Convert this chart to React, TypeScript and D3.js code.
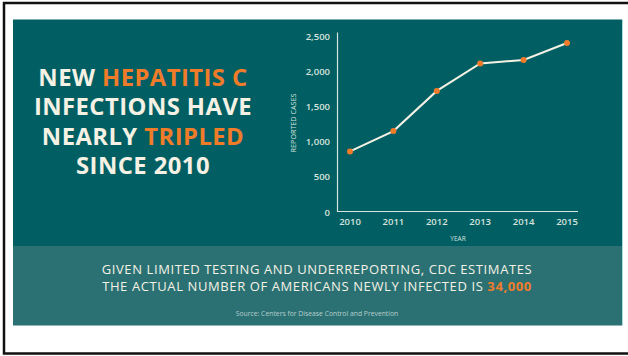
import React from "react";
import * as d3 from "d3";

const years = ["2010", "2011", "2012", "2013", "2014", "2015"];
const cases = [860, 1150, 1720, 2110, 2160, 2400];
const yTicks = [0, 500, 1000, 1500, 2000, 2500];

const headline: { text: string; orange: boolean }[][] = [
  [{ text: "NEW ", orange: false }, { text: "HEPATITIS C", orange: true }],
  [{ text: "INFECTIONS HAVE", orange: false }],
  [{ text: "NEARLY ", orange: false }, { text: "TRIPLED", orange: true }],
  [{ text: "SINCE 2010", orange: false }],
];
const footLine1 = "GIVEN LIMITED TESTING AND UNDERREPORTING, CDC ESTIMATES";
const footLine2a = "THE ACTUAL NUMBER OF AMERICANS NEWLY INFECTED IS ";
const footLine2b = "34,000";
const sourceText = "Source: Centers for Disease Control and Prevention";

const DARK = "#015f63";
const BAND = "#2b7174";
const CREAM = "#f5f1e4";
const ORANGE = "#f07c2a";
const AXIS = "#d6e3de";
const FONT = "'Open Sans', 'Noto Sans', sans-serif";

export default function App() {
  const x = d3.scalePoint<string>().domain(years).range([350, 567]);
  const y = d3.scaleLinear().domain([0, 2500]).range([212, 36]);
  const line = d3
    .line<number>()
    .x((_, i) => x(years[i]) as number)
    .y((d) => y(d));

  return (
    <svg
      width={628}
      height={356}
      style={{ position: "absolute", left: 0, top: 0, display: "block" }}
    >
      <rect x={0} y={0} width={628} height={356} fill="#fff" />
      <rect x={4} y={3} width={630} height={350.5} fill="none" stroke="#111" strokeWidth={2.5} />
      <rect x={13} y={19.5} width={609} height={227} fill={DARK} />
      <rect x={13} y={246} width={609} height={79.5} fill={BAND} />
      <line x1={622.5} x2={622.5} y1={19.5} y2={325.5} stroke="#a9dcdc" strokeWidth={1} />

      <text
        x={143}
        y={86}
        textAnchor="middle"
        fontFamily={FONT}
        fontWeight={700}
        fontSize={23.8}
        letterSpacing={0.45}
        fill={CREAM}
      >
        {headline.map((ln, i) =>
          ln.map((s, j) => (
            <tspan
              key={i + "-" + j}
              x={j === 0 ? 143 : undefined}
              dy={j === 0 && i > 0 ? 29.3 : undefined}
              fill={s.orange ? ORANGE : CREAM}
            >
              {s.text}
            </tspan>
          ))
        )}
      </text>

      <line x1={337.5} x2={337.5} y1={32.5} y2={212} stroke={AXIS} strokeWidth={1.2} />
      <line x1={337} x2={578} y1={211.5} y2={211.5} stroke={AXIS} strokeWidth={1.2} />
      {yTicks.map((t) => (
        <text
          key={t}
          x={330}
          y={y(t) + 3.5}
          textAnchor="end"
          fontFamily={FONT}
          fontWeight={600}
          fontSize={9.5}
          fill={AXIS}
        >
          {d3.format(",")(t)}
        </text>
      ))}
      {years.map((yr) => (
        <text
          key={yr}
          x={x(yr)}
          y={225}
          textAnchor="middle"
          fontFamily={FONT}
          fontWeight={600}
          fontSize={9.5}
          fill={AXIS}
        >
          {yr}
        </text>
      ))}
      <text
        transform="translate(296,123) rotate(-90)"
        textAnchor="middle"
        fontFamily={FONT}
        fontSize={7.2}
        fill={AXIS}
      >
        REPORTED CASES
      </text>
      <text x={458} y={240.5} textAnchor="middle" fontFamily={FONT} fontSize={6.5} fill={AXIS}>
        YEAR
      </text>

      <path d={line(cases) ?? ""} fill="none" stroke={CREAM} strokeWidth={2} />
      {cases.map((c, i) => (
        <circle key={i} cx={x(years[i])} cy={y(c)} r={3} fill={ORANGE} />
      ))}

      <text
        x={317}
        y={273.5}
        textAnchor="middle"
        fontFamily={FONT}
        fontSize={13}
        letterSpacing={0.6}
        fill={CREAM}
      >
        <tspan x={317}>{footLine1}</tspan>
        <tspan x={317} dy={17}>
          {footLine2a}
          <tspan fill={ORANGE} fontWeight={700}>
            {footLine2b}
          </tspan>
        </tspan>
      </text>
      <text x={317} y={316} textAnchor="middle" fontFamily={FONT} fontSize={6.8} fill="#b7cfcc">
        {sourceText}
      </text>
    </svg>
  );
}
